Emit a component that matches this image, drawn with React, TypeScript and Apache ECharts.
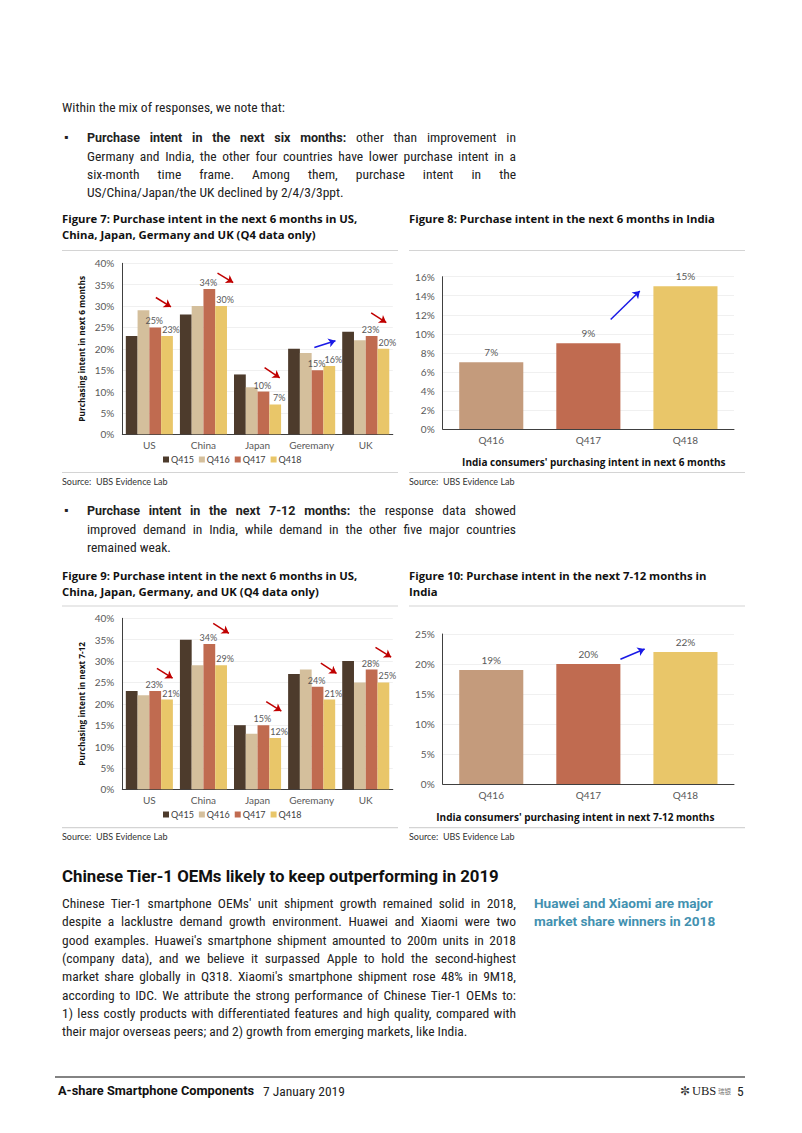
import React, { useEffect, useRef } from 'react';
import * as echarts from 'echarts';

// ---------- data ----------
const countries = ['US', 'China', 'Japan', 'Geremany', 'UK'];
const quarters = ['Q415', 'Q416', 'Q417', 'Q418'];

// Figure 7: purchase intent in next 6 months (%)
const next6Q415 = [23, 28, 14, 20, 24];
const next6Q416 = [29, 30, 11, 19, 22];
const next6Q417 = [25, 34, 10, 15, 23];
const next6Q418 = [23, 30, 7, 16, 20];

// Figure 9: purchase intent in next 7-12 months (%)
const next712Q415 = [23, 35, 15, 27, 30];
const next712Q416 = [22, 29, 13, 28, 25];
const next712Q417 = [23, 34, 15, 24, 28];
const next712Q418 = [21, 29, 12, 21, 25];

// Figures 8 & 10: India
const indiaQuarters = ['Q416', 'Q417', 'Q418'];
const india6m = [7, 9, 15];
const india712m = [19, 20, 22];

// y-axis tick settings [max, interval]
const fig7Ticks = [40, 5];
const fig8Ticks = [16, 2];
const fig9Ticks = [40, 5];
const fig10Ticks = [25, 5];

// arrow annotations in data space: [categoryIndex, value]
const fig7Arrows = [
  { from: [0.12, 32], to: [0.4, 29.8], color: 'red' },
  { from: [1.26, 37.7], to: [1.55, 35.5], color: 'red' },
  { from: [2.13, 15.6], to: [2.41, 13.2], color: 'red' },
  { from: [3.05, 20.3], to: [3.44, 21.9], color: 'blue' },
  { from: [4.1, 28.4], to: [4.38, 26.1], color: 'red' },
];
const fig8Arrows = [{ from: [1.23, 11.5], to: [1.53, 14.5], color: 'blue' }];
const fig9Arrows = [
  { from: [0.14, 28.3], to: [0.43, 26.0], color: 'red' },
  { from: [1.18, 38.8], to: [1.47, 36.5], color: 'red' },
  { from: [2.16, 20.5], to: [2.44, 18.3], color: 'red' },
  { from: [3.17, 29.5], to: [3.46, 27.1], color: 'red' },
  { from: [4.18, 33.2], to: [4.47, 30.9], color: 'red' },
];
const fig10Arrows = [{ from: [1.33, 20.8], to: [1.58, 22.5], color: 'blue' }];

// ---------- styles ----------
const quarterColors = ['#4d3b2c', '#d4bf9c', '#c06b50', '#e9c669'];
const indiaColors = ['#c49b7c', '#c06b50', '#e9c669'];
const arrowColors: Record<string, string> = { red: '#c00000', blue: '#1a1ae6' };
const CF = 'Lato, "Open Sans", sans-serif';
const OS = '"Open Sans", "Noto Sans", sans-serif';
const BODY = '"Liberation Sans Narrow", "Arial Narrow", "Roboto Condensed", Roboto, sans-serif';
const BOLDF = 'Roboto, "Open Sans", sans-serif';

const para1 = [
  'Germany and India, the other four countries have lower purchase intent in a',
  'six-month time frame. Among them, purchase intent in the',
  'US/China/Japan/the UK declined by 2/4/3/3ppt.',
];
const para2 = [
  'improved demand in India, while demand in the other five major countries',
  'remained weak.',
];
const para3 = [
  "Chinese Tier-1 smartphone OEMs' unit shipment growth remained solid in 2018,",
  'despite a lacklustre demand growth environment. Huawei and Xiaomi were two',
  "good examples. Huawei's smartphone shipment amounted to 200m units in 2018",
  '(company data), and we believe it surpassed Apple to hold the second-highest',
  "market share globally in Q318. Xiaomi's smartphone shipment rose 48% in 9M18,",
  'according to IDC. We attribute the strong performance of Chinese Tier-1 OEMs to:',
  '1) less costly products with differentiated features and high quality, compared with',
  'their major overseas peers; and 2) growth from emerging markets, like India.',
];

function TL(props: { x: number; y: number; w?: number; justify?: boolean; children: any; style?: any }) {
  const { x, y, w, justify, children, style } = props;
  return (
    <div
      style={{
        position: 'absolute',
        left: x,
        top: y - 9,
        width: w,
        height: 18,
        lineHeight: '18px',
        fontFamily: BODY,
        fontSize: 13.5,
        color: '#222',
        textAlign: justify ? 'justify' : 'left',
        textAlignLast: justify ? 'justify' : 'auto',
        whiteSpace: w ? 'normal' : 'nowrap',
        ...style,
      } as any}
    >
      {children}
    </div>
  );
}

export default function App() {
  const ref = useRef<HTMLDivElement>(null);

  useEffect(() => {
    if (!ref.current) return;
    const chart = echarts.init(ref.current, undefined, { renderer: 'svg' });

    const grids = [
      { left: 122.3, top: 263.3, width: 270.5, height: 171 },
      { left: 442.7, top: 276.7, width: 291.3, height: 152.3 },
      { left: 122.3, top: 618.3, width: 270.5, height: 171 },
      { left: 442.7, top: 634, width: 291.3, height: 150 },
    ];
    const catData = [countries, indiaQuarters, countries, indiaQuarters];
    const ticks = [fig7Ticks, fig8Ticks, fig9Ticks, fig10Ticks];
    const yNames = ['Purchasing intent in next 6 months', '', 'Purchasing intent in next 7-12', ''];
    const xNames = ['', "India consumers' purchasing intent in next 6 months", '', "India consumers' purchasing intent in next 7-12 months"];
    const xNamePad = [[0, 0, 0, 0], [0, 0, 0, 11], [0, 0, 0, 0], [0, 26, 0, 0]];

    const xAxis: any[] = [];
    catData.forEach((d, g) => {
      xAxis.push({
        type: 'category',
        gridIndex: g,
        data: d,
        axisLine: { lineStyle: { color: '#404040', width: 1 } },
        axisTick: { show: false },
        axisLabel: { color: '#595959', fontSize: 10, margin: 6, fontFamily: CF, interval: 0 },
        name: xNames[g],
        nameLocation: 'middle',
        nameGap: 28,
        nameTextStyle: { fontWeight: 'bold', fontSize: 10, color: '#111', fontFamily: OS, padding: xNamePad[g] },
      });
    });
    catData.forEach((d, g) => {
      xAxis.push({ type: 'value', gridIndex: g, min: -0.5, max: d.length - 0.5, show: false, position: 'top' });
    });

    const yAxis = ticks.map((t, g) => ({
      type: 'value',
      gridIndex: g,
      min: 0,
      max: t[0],
      interval: t[1],
      axisLine: { show: true, onZero: false, lineStyle: { color: '#404040', width: 1 } },
      axisTick: { show: false },
      axisLabel: { formatter: '{value}%', color: '#595959', fontSize: 10, margin: 8, fontFamily: CF },
      splitLine: { lineStyle: { color: '#f0f0f0', width: 1 } },
      name: yNames[g],
      nameLocation: 'middle',
      nameGap: 37,
      nameRotate: 90,
      nameTextStyle: { fontWeight: 'bold', fontSize: 8.3, color: '#111', fontFamily: OS },
    }));

    const labelStyle = {
      show: true,
      position: 'top',
      distance: 2,
      formatter: '{c}%',
      fontSize: 9,
      color: '#595959',
      fontFamily: CF,
    };

    const series: any[] = [];
    const next6 = [next6Q415, next6Q416, next6Q417, next6Q418];
    const next712 = [next712Q415, next712Q416, next712Q417, next712Q418];
    [next6, next712].forEach((set, k) => {
      const g = k === 0 ? 0 : 2;
      quarters.forEach((q, i) => {
        series.push({
          type: 'bar',
          name: q,
          xAxisIndex: g,
          yAxisIndex: g,
          data: set[i],
          itemStyle: { color: quarterColors[i] },
          barGap: '0%',
          barCategoryGap: '13%',
          label: i === 2 ? { ...labelStyle, offset: [-1, 0] } : i === 3 ? { ...labelStyle, offset: [4, 0] } : { show: false },
          silent: true,
        });
      });
    });
    [india6m, india712m].forEach((vals, k) => {
      const g = k === 0 ? 1 : 3;
      series.push({
        type: 'bar',
        name: k === 0 ? 'India 6m' : 'India 7-12m',
        xAxisIndex: g,
        yAxisIndex: g,
        data: vals.map((v, i) => ({ value: v, itemStyle: { color: indiaColors[i] } })),
        barCategoryGap: '34%',
        label: { ...labelStyle, fontSize: 10, distance: 5 },
        silent: true,
      });
    });
    [fig7Arrows, fig8Arrows, fig9Arrows, fig10Arrows].forEach((arrows, g) => {
      ['red', 'blue'].forEach((c) => {
        const list = arrows.filter((a) => a.color === c);
        if (!list.length) return;
        series.push({
          type: 'lines',
          coordinateSystem: 'cartesian2d',
          xAxisIndex: 4 + g,
          yAxisIndex: g,
          symbol: ['none', 'arrow'],
          symbolSize: 7,
          lineStyle: { color: arrowColors[c], width: 1.5, opacity: 1 },
          data: list.map((a) => ({ coords: [a.from, a.to] })),
          silent: true,
          z: 5,
        });
      });
    });

    const legendBase = {
      data: quarters,
      icon: 'rect',
      itemWidth: 6,
      itemHeight: 6,
      itemGap: 5,
      padding: 0,
      selectedMode: false,
      textStyle: { fontSize: 9, color: '#404040', fontFamily: CF, padding: [0, 0, 0, -3] },
    };

    const txt = (x: number, y: number, text: string, font: string, fill = '#111') => ({
      type: 'text',
      x,
      y,
      silent: true,
      style: { text, font, fill, verticalAlign: 'middle' },
    });
    const hl = (x1: number, x2: number, y: number, stroke = '#d4d4d4', w = 1.2) => ({
      type: 'line',
      silent: true,
      shape: { x1, y1: y, x2, y2: y },
      style: { stroke, lineWidth: w },
    });
    const TF = `bold 11.3px ${OS}`;
    const SF = `9px ${CF}`;

    chart.setOption({
      animation: false,
      textStyle: { fontFamily: CF },
      grid: grids,
      xAxis,
      yAxis,
      legend: [
        { ...legendBase, left: 163, top: 455 },
        { ...legendBase, left: 163, top: 810 },
      ],
      series,
      graphic: [
        txt(62, 218, 'Figure 7: Purchase intent in the next 6 months in US,', TF),
        txt(62, 234, 'China, Japan, Germany and UK (Q4 data only)', TF),
        txt(409, 218, 'Figure 8: Purchase intent in the next 6 months in India', TF),
        hl(62, 398, 250.5),
        hl(409, 745, 250.5),
        hl(62, 398, 472.5),
        hl(409, 745, 472.5),
        txt(62, 481, 'Source:  UBS Evidence Lab', SF, '#333'),
        txt(409, 481, 'Source:  UBS Evidence Lab', SF, '#333'),
        txt(62, 575, 'Figure 9: Purchase intent in the next 6 months in US,', TF),
        txt(62, 591, 'China, Japan, Germany, and UK (Q4 data only)', TF),
        txt(409, 575, 'Figure 10: Purchase intent in the next 7-12 months in', TF),
        txt(409, 591, 'India', TF),
        hl(62, 398, 606),
        hl(409, 745, 606),
        hl(62, 398, 827.7),
        hl(409, 745, 827.7),
        txt(62, 836, 'Source:  UBS Evidence Lab', SF, '#333'),
        txt(409, 836, 'Source:  UBS Evidence Lab', SF, '#333'),
        hl(55, 745, 1077, '#5a5a5a', 1.6),
      ],
    });

    return () => chart.dispose();
  }, []);

  const p3y = (i: number) => 903 + i * 18.33;

  return (
    <div style={{ position: 'absolute', left: 0, top: 0, width: 802, height: 1133, background: '#fff', overflow: 'hidden' }}>
      <div ref={ref} style={{ position: 'absolute', left: 0, top: 0, width: 802, height: 1133 }} />

      <TL x={62} y={107}>Within the mix of responses, we note that:</TL>

      <TL x={64} y={137} style={{ fontSize: 12 }}>▪</TL>
      <TL x={87} y={137} w={429} justify>
        <b style={{ fontFamily: BOLDF, fontSize: 12.5 }}>Purchase intent in the next six months:</b> other than improvement in
      </TL>
      <TL x={87} y={155.5} w={429} justify>{para1[0]}</TL>
      <TL x={87} y={174} w={429} justify>{para1[1]}</TL>
      <TL x={87} y={192}>{para1[2]}</TL>

      <TL x={64} y={510} style={{ fontSize: 12 }}>▪</TL>
      <TL x={87} y={510} w={429} justify>
        <b style={{ fontFamily: BOLDF, fontSize: 12.5 }}>Purchase intent in the next 7-12 months:</b> the response data showed
      </TL>
      <TL x={87} y={528.5} w={429} justify>{para2[0]}</TL>
      <TL x={87} y={547}>{para2[1]}</TL>

      <TL x={62} y={876} style={{ fontFamily: BOLDF, fontWeight: 700, fontSize: 16.8, color: '#111', height: 22, top: 865, lineHeight: '22px' }}>
        Chinese Tier-1 OEMs likely to keep outperforming in 2019
      </TL>

      {para3.map((line, i) =>
        i < para3.length - 1 ? (
          <TL key={i} x={62} y={p3y(i)} w={454} justify>{line}</TL>
        ) : (
          <TL key={i} x={62} y={p3y(i)}>{line}</TL>
        )
      )}

      <TL x={534} y={903} style={{ fontFamily: BOLDF, fontWeight: 700, fontSize: 13.6, color: '#4391b0' }}>Huawei and Xiaomi are major</TL>
      <TL x={534} y={921.3} style={{ fontFamily: BOLDF, fontWeight: 700, fontSize: 13.6, color: '#4391b0' }}>market share winners in 2018</TL>

      <TL x={58} y={1091} style={{ fontFamily: BOLDF, fontWeight: 700, fontSize: 12.8, color: '#111' }}>A-share Smartphone Components</TL>
      <TL x={263} y={1091} style={{ fontSize: 13.5, color: '#222' }}>7 January 2019</TL>
      <TL x={680} y={1091} style={{ fontFamily: '"Liberation Serif", serif', fontSize: 12, color: '#333' }}>✼</TL>
      <TL x={692} y={1091} style={{ fontFamily: '"Liberation Serif", serif', fontSize: 12.5, color: '#222' }}>UBS</TL>
      <TL x={718} y={1091} style={{ fontFamily: '"Noto Sans CJK SC", sans-serif', fontSize: 6.5, color: '#777' }}>瑞银</TL>
      <TL x={737} y={1091} style={{ fontSize: 13.5, color: '#222' }}>5</TL>
    </div>
  );
}
